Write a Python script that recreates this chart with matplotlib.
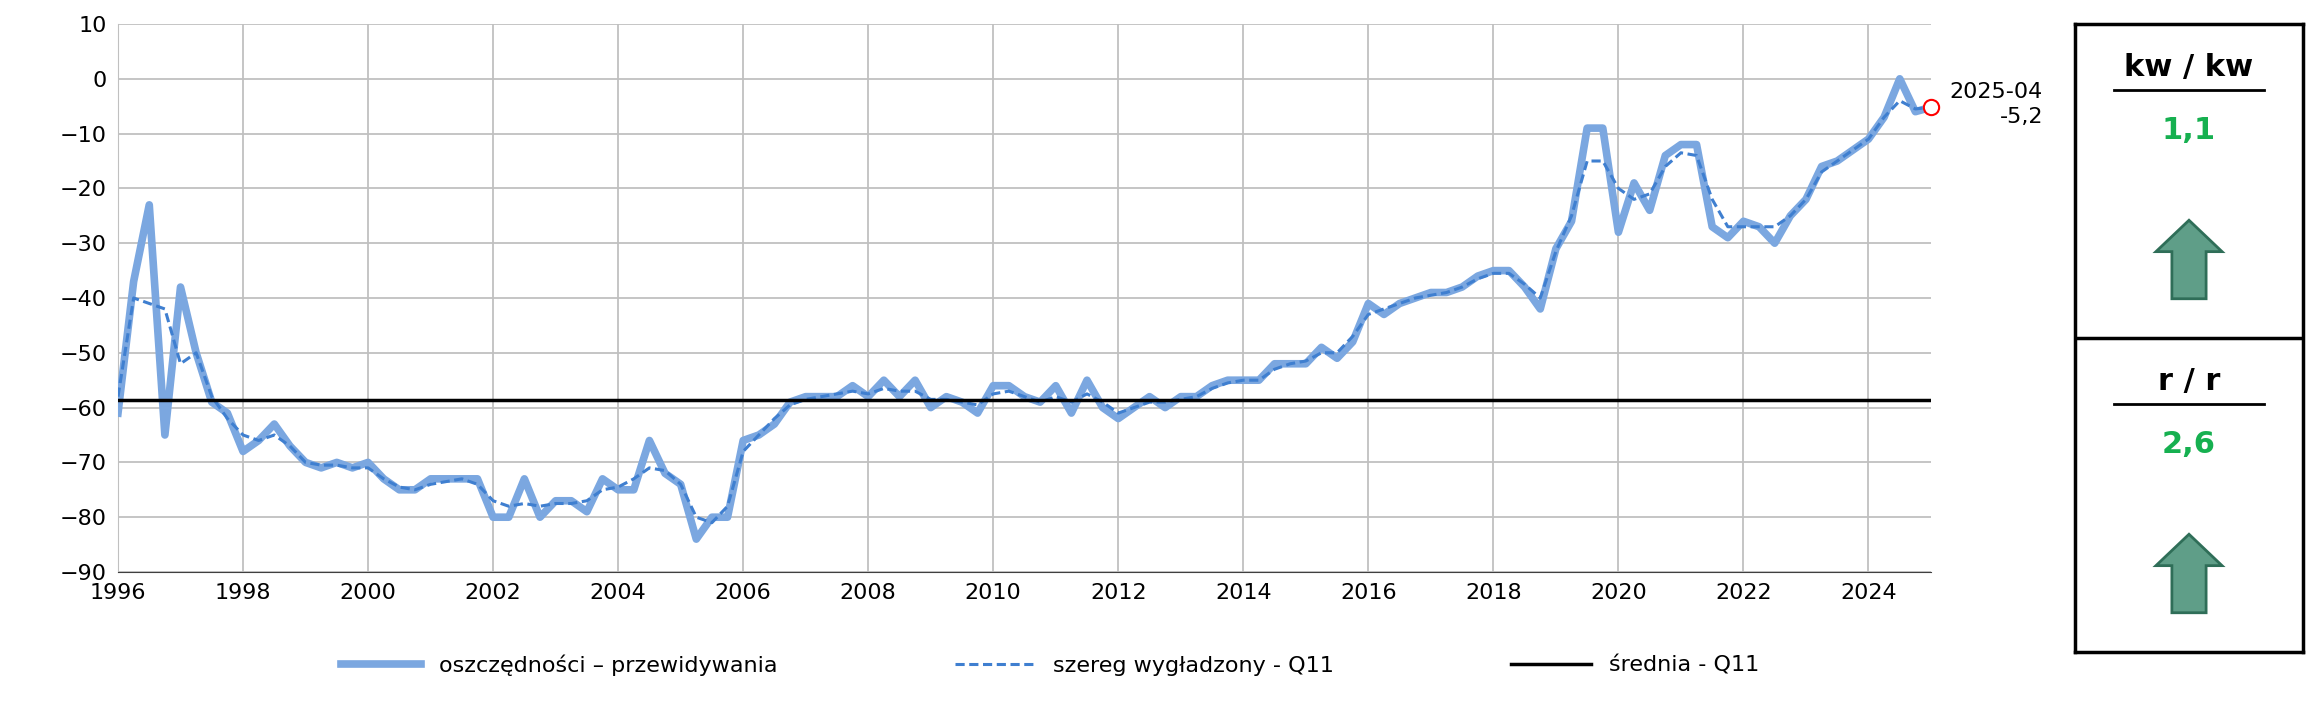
import matplotlib
matplotlib.use("Agg")
import matplotlib.pyplot as plt
import numpy as np
from matplotlib.patches import Polygon

plt.rcParams['font.family'] = ['DejaVu Sans']

raw = [-61, -37, -23, -65, -38, -50, -59, -61, -68, -66, -63, -67,
       -70, -71, -70, -71, -70, -73, -75, -75, -73, -73, -73, -73,
       -80, -80, -73, -80, -77, -77, -79, -73, -75, -75, -66, -72,
       -74, -84, -80, -80, -66, -65, -63, -59, -58, -58, -58, -56,
       -58, -55, -58, -55, -60, -58, -59, -61, -56, -56, -58, -59,
       -56, -61, -55, -60, -62, -60, -58, -60, -58, -58, -56, -55,
       -55, -55, -52, -52, -52, -49, -51, -48, -41, -43, -41, -40,
       -39, -39, -38, -36, -35, -35, -38, -42, -31, -26, -9,
       -9, -28, -19, -24, -14, -12, -12, -27, -29, -26, -27, -30,
       -25, -22, -16, -15, -13, -11, -7, 0, -6, -5.2]
smooth = [-58, -40, -41, -42, -52, -50, -58, -62, -65, -66, -65, -67,
          -70, -70.5, -70.5, -71, -71, -73, -74.5, -75, -74, -73.5, -73, -74,
          -77, -78, -77.5, -78, -77.5, -77.5, -77, -75, -74.5, -73, -71, -71.5,
          -74, -80, -81, -78, -68, -65, -62, -59.5, -58.5, -58, -57.5, -57,
          -57.5, -56.5, -57, -57, -58.5, -58.5, -59, -59.5, -57.5, -57, -58, -59,
          -58, -59, -57.5, -59, -61, -60, -59, -59, -58.5, -58, -56.5, -55.5,
          -55, -55, -53, -52, -51.5, -50, -50, -47, -43, -42, -41, -40,
          -39.5, -39, -38, -36.5, -35.5, -35.5, -37.5, -40, -31.5, -25, -15,
          -15, -20, -22, -21, -16, -13.5, -14, -22, -27, -27, -27, -27,
          -25, -22, -17, -15, -13, -11, -7, -4, -5.5, -5.2]
start_year = 1996
x = start_year + np.arange(len(raw)) / 4.0
mean_q11 = -58.7
last_label = "2025-04"
last_value = "-5,2"
kw_label, kw_value = "kw / kw", "1,1"
rr_label, rr_value = "r / r", "2,6"
years = list(range(1996, 2026, 2))

W, H = 2310, 703
fig = plt.figure(figsize=(W/100, H/100), dpi=100)
ax = fig.add_axes([118/W, 1-572/H, (1931-118)/W, (572-24)/H])
ax.plot(x, raw, color='#7ba7e0', lw=5.5, solid_joinstyle='round', zorder=3,
        label='oszczędności – przewidywania')
ax.plot(x, smooth, color='#3f7fd0', lw=2.2, ls=(0, (3, 1.5)), zorder=4,
        label='szereg wygładzony - Q11')
ax.axhline(mean_q11, color='black', lw=2.5, zorder=5, label='średnia - Q11')
ax.plot([x[-1]], [raw[-1]], 'o', ms=11, mfc='white', mec='red', mew=1.5, zorder=6, clip_on=False)
ax.text(x[-1] + 0.3, raw[-1] + 0.5, last_label + "\n" + last_value, ha='left', va='center',
        fontsize=16, linespacing=1.3, multialignment='right')
ax.set_xlim(1996, x[-1])
ax.set_ylim(-90, 10)
ax.set_yticks(range(-90, 11, 10))
ax.set_xticks(years)
ax.grid(True, color='#c0c0c0', lw=1.3)
ax.set_axisbelow(True)
for s in ['top', 'right']:
    ax.spines[s].set_visible(False)
ax.spines['left'].set_color('#c0c0c0')
ax.spines['bottom'].set_color('#404040')
ax.tick_params(labelsize=16, length=0, pad=8)
fig.legend(loc='center', bbox_to_anchor=(1050/W, 1-665/H), ncol=3, frameon=False,
           fontsize=16, handlelength=3.6, columnspacing=8)

# right panel
pax = fig.add_axes([2075/W, 1-652/H, (2303-2075)/W, (652-24)/H])
pax.set_xlim(0, 1); pax.set_ylim(0, 2)
pax.set_xticks([]); pax.set_yticks([])
for s in pax.spines.values():
    s.set_linewidth(2.5)
pax.axhline(1, color='black', lw=2.5)
def arrow(cx, cy):
    w, hw, h, hh = 0.075, 0.145, 0.25, 0.1
    pts = [(cx-w, cy-h/2), (cx+w, cy-h/2), (cx+w, cy+h/2-hh), (cx+hw, cy+h/2-hh),
           (cx, cy+h/2), (cx-hw, cy+h/2-hh), (cx-w, cy+h/2-hh)]
    pax.add_patch(Polygon(pts, closed=True, fc='#5f9e88', ec='#2f6e58', lw=2))
for base, lab, val in [(1, kw_label, kw_value), (0, rr_label, rr_value)]:
    pax.text(0.5, base + 0.86, lab, ha='center', va='center', fontsize=22, fontweight='bold')
    pax.plot([0.17, 0.83], [base + 0.79, base + 0.79], color='black', lw=2)
    pax.text(0.5, base + 0.66, val, ha='center', va='center', fontsize=22,
             fontweight='bold', color='#16b050')
    arrow(0.5, base + 0.25)

fig.savefig('out.png', dpi=100)
